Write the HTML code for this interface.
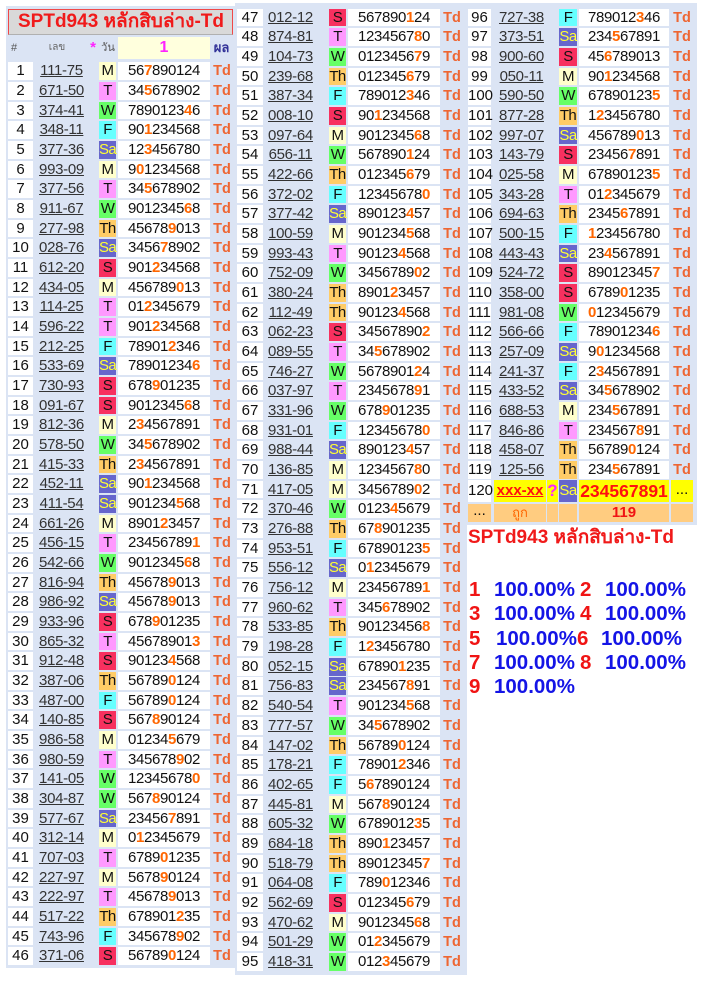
<!DOCTYPE html>
<html><head><meta charset="utf-8">
<style>
*{margin:0;padding:0;box-sizing:border-box}
body{width:702px;height:993px;position:relative;background:#fff;overflow:hidden;font-family:"Liberation Sans","DejaVu Sans",sans-serif}
.bg{position:absolute;background:#dbe4f4}
.t{position:absolute}
.r{position:relative;height:19.68px}
.r span{position:absolute;top:1px;height:17.7px;line-height:18px;text-align:center;font-size:15px;color:#111;white-space:nowrap}
.n{left:0;width:25px;background:#fff}
.l{left:26px;width:55px;text-decoration:underline;text-decoration-thickness:1.3px;color:#333 !important;letter-spacing:-0.3px}
.d{left:91px;width:17px;letter-spacing:-0.6px}
.g{left:110px;width:92px;background:#fff;letter-spacing:-0.35px}
.g b{color:#ff6600}
.r span.x{left:204px;width:20px;font-weight:bold;color:#ee6633;font-size:14.5px}
.M{background:#ffffcc}.T{background:#ff99ff}.W{background:#66ff66}.Th{background:#ffcc66}.F{background:#66ffff}
.r span.Sa{background:#6666cc;color:#ffff33}.S{background:#f7305f}
#R .n{width:23px}
#R .d{width:18px}
#R .g{left:111px;width:90px}
#R .r span.x{left:203px;width:22px}
#C .n{width:26px}
#C .d{left:92px}
#C .g{left:111px}
#C .r span.x{left:205px}
.ttl{position:absolute;color:#f01a1a;font-weight:bold;font-size:19px;white-space:nowrap}
.h{position:absolute;top:37px;height:22px;line-height:22px;text-align:center;white-space:nowrap}
.st{position:absolute;font-weight:bold;font-size:20.5px;line-height:24px;white-space:nowrap}
.rd{color:#f01414}.bl{color:#1414e6}
</style></head><body>
<div class="bg" style="left:6px;top:6px;width:229px;height:962px"></div>
<div class="bg" style="left:235px;top:3px;width:232px;height:972px"></div>
<div class="bg" style="left:466px;top:3px;width:231px;height:522px"></div>

<div style="position:absolute;left:8px;top:9px;width:225px;height:26px;background:#d9d9d9;border:1px solid #f04848;border-bottom-color:#b0b0b0"></div>
<div class="ttl" style="left:18px;top:9px;line-height:26px">SPTd943 หลักสิบล่าง-Td</div>

<div class="h" style="left:9px;width:10px;font-size:11px;color:#555">#</div>
<div class="h" style="left:40px;width:34px;font-size:10px;color:#666">เลข</div>
<div class="h" style="left:88px;width:10px;font-size:15px;color:#ff22ff;font-weight:bold">*</div>
<div class="h" style="left:100px;width:16px;font-size:11px;color:#555">วัน</div>
<div class="h" style="left:118px;width:92px;background:#ffffdd;font-size:16px;color:#ff22ff;font-weight:bold">1</div>
<div class="h" style="left:212px;width:19px;font-size:13px;color:#333399;font-weight:bold">ผล</div>

<div class="t" id="L" style="left:8px;top:61.2px;width:226px">
<div class="r"><span class="n">1</span><span class="l">111-75</span><span class="d M">M</span><span class="g">56<b>7</b>890124</span><span class="x">Td</span></div>
<div class="r"><span class="n">2</span><span class="l">671-50</span><span class="d T">T</span><span class="g">34<b>5</b>678902</span><span class="x">Td</span></div>
<div class="r"><span class="n">3</span><span class="l">374-41</span><span class="d W">W</span><span class="g">7890123<b>4</b>6</span><span class="x">Td</span></div>
<div class="r"><span class="n">4</span><span class="l">348-11</span><span class="d F">F</span><span class="g">90<b>1</b>234568</span><span class="x">Td</span></div>
<div class="r"><span class="n">5</span><span class="l">377-36</span><span class="d Sa">Sa</span><span class="g">12<b>3</b>456780</span><span class="x">Td</span></div>
<div class="r"><span class="n">6</span><span class="l">993-09</span><span class="d M">M</span><span class="g">9<b>0</b>1234568</span><span class="x">Td</span></div>
<div class="r"><span class="n">7</span><span class="l">377-56</span><span class="d T">T</span><span class="g">34<b>5</b>678902</span><span class="x">Td</span></div>
<div class="r"><span class="n">8</span><span class="l">911-67</span><span class="d W">W</span><span class="g">9012345<b>6</b>8</span><span class="x">Td</span></div>
<div class="r"><span class="n">9</span><span class="l">277-98</span><span class="d Th">Th</span><span class="g">45678<b>9</b>013</span><span class="x">Td</span></div>
<div class="r"><span class="n">10</span><span class="l">028-76</span><span class="d Sa">Sa</span><span class="g">3456<b>7</b>8902</span><span class="x">Td</span></div>
<div class="r"><span class="n">11</span><span class="l">612-20</span><span class="d S">S</span><span class="g">901<b>2</b>34568</span><span class="x">Td</span></div>
<div class="r"><span class="n">12</span><span class="l">434-05</span><span class="d M">M</span><span class="g">456789<b>0</b>13</span><span class="x">Td</span></div>
<div class="r"><span class="n">13</span><span class="l">114-25</span><span class="d T">T</span><span class="g">01<b>2</b>345679</span><span class="x">Td</span></div>
<div class="r"><span class="n">14</span><span class="l">596-22</span><span class="d T">T</span><span class="g">901<b>2</b>34568</span><span class="x">Td</span></div>
<div class="r"><span class="n">15</span><span class="l">212-25</span><span class="d F">F</span><span class="g">78901<b>2</b>346</span><span class="x">Td</span></div>
<div class="r"><span class="n">16</span><span class="l">533-69</span><span class="d Sa">Sa</span><span class="g">78901234<b>6</b></span><span class="x">Td</span></div>
<div class="r"><span class="n">17</span><span class="l">730-93</span><span class="d S">S</span><span class="g">678<b>9</b>01235</span><span class="x">Td</span></div>
<div class="r"><span class="n">18</span><span class="l">091-67</span><span class="d S">S</span><span class="g">9012345<b>6</b>8</span><span class="x">Td</span></div>
<div class="r"><span class="n">19</span><span class="l">812-36</span><span class="d M">M</span><span class="g">2<b>3</b>4567891</span><span class="x">Td</span></div>
<div class="r"><span class="n">20</span><span class="l">578-50</span><span class="d W">W</span><span class="g">34<b>5</b>678902</span><span class="x">Td</span></div>
<div class="r"><span class="n">21</span><span class="l">415-33</span><span class="d Th">Th</span><span class="g">2<b>3</b>4567891</span><span class="x">Td</span></div>
<div class="r"><span class="n">22</span><span class="l">452-11</span><span class="d Sa">Sa</span><span class="g">90<b>1</b>234568</span><span class="x">Td</span></div>
<div class="r"><span class="n">23</span><span class="l">411-54</span><span class="d Sa">Sa</span><span class="g">901234<b>5</b>68</span><span class="x">Td</span></div>
<div class="r"><span class="n">24</span><span class="l">661-26</span><span class="d M">M</span><span class="g">8901<b>2</b>3457</span><span class="x">Td</span></div>
<div class="r"><span class="n">25</span><span class="l">456-15</span><span class="d T">T</span><span class="g">23456789<b>1</b></span><span class="x">Td</span></div>
<div class="r"><span class="n">26</span><span class="l">542-66</span><span class="d W">W</span><span class="g">9012345<b>6</b>8</span><span class="x">Td</span></div>
<div class="r"><span class="n">27</span><span class="l">816-94</span><span class="d Th">Th</span><span class="g">45678<b>9</b>013</span><span class="x">Td</span></div>
<div class="r"><span class="n">28</span><span class="l">986-92</span><span class="d Sa">Sa</span><span class="g">45678<b>9</b>013</span><span class="x">Td</span></div>
<div class="r"><span class="n">29</span><span class="l">933-96</span><span class="d S">S</span><span class="g">678<b>9</b>01235</span><span class="x">Td</span></div>
<div class="r"><span class="n">30</span><span class="l">865-32</span><span class="d T">T</span><span class="g">45678901<b>3</b></span><span class="x">Td</span></div>
<div class="r"><span class="n">31</span><span class="l">912-48</span><span class="d S">S</span><span class="g">90123<b>4</b>568</span><span class="x">Td</span></div>
<div class="r"><span class="n">32</span><span class="l">387-06</span><span class="d Th">Th</span><span class="g">56789<b>0</b>124</span><span class="x">Td</span></div>
<div class="r"><span class="n">33</span><span class="l">487-00</span><span class="d F">F</span><span class="g">56789<b>0</b>124</span><span class="x">Td</span></div>
<div class="r"><span class="n">34</span><span class="l">140-85</span><span class="d S">S</span><span class="g">567<b>8</b>90124</span><span class="x">Td</span></div>
<div class="r"><span class="n">35</span><span class="l">986-58</span><span class="d M">M</span><span class="g">01234<b>5</b>679</span><span class="x">Td</span></div>
<div class="r"><span class="n">36</span><span class="l">980-59</span><span class="d T">T</span><span class="g">345678<b>9</b>02</span><span class="x">Td</span></div>
<div class="r"><span class="n">37</span><span class="l">141-05</span><span class="d W">W</span><span class="g">12345678<b>0</b></span><span class="x">Td</span></div>
<div class="r"><span class="n">38</span><span class="l">304-87</span><span class="d W">W</span><span class="g">567<b>8</b>90124</span><span class="x">Td</span></div>
<div class="r"><span class="n">39</span><span class="l">577-67</span><span class="d Sa">Sa</span><span class="g">23456<b>7</b>891</span><span class="x">Td</span></div>
<div class="r"><span class="n">40</span><span class="l">312-14</span><span class="d M">M</span><span class="g">0<b>1</b>2345679</span><span class="x">Td</span></div>
<div class="r"><span class="n">41</span><span class="l">707-03</span><span class="d T">T</span><span class="g">6789<b>0</b>1235</span><span class="x">Td</span></div>
<div class="r"><span class="n">42</span><span class="l">227-97</span><span class="d M">M</span><span class="g">5678<b>9</b>0124</span><span class="x">Td</span></div>
<div class="r"><span class="n">43</span><span class="l">222-97</span><span class="d T">T</span><span class="g">45678<b>9</b>013</span><span class="x">Td</span></div>
<div class="r"><span class="n">44</span><span class="l">517-22</span><span class="d Th">Th</span><span class="g">678901<b>2</b>35</span><span class="x">Td</span></div>
<div class="r"><span class="n">45</span><span class="l">743-96</span><span class="d F">F</span><span class="g">345678<b>9</b>02</span><span class="x">Td</span></div>
<div class="r"><span class="n">46</span><span class="l">371-06</span><span class="d S">S</span><span class="g">56789<b>0</b>124</span><span class="x">Td</span></div>
</div>

<div class="t" id="C" style="left:237px;top:7.65px;width:228px">
<div class="r"><span class="n">47</span><span class="l">012-12</span><span class="d S">S</span><span class="g">567890<b>1</b>24</span><span class="x">Td</span></div>
<div class="r"><span class="n">48</span><span class="l">874-81</span><span class="d T">T</span><span class="g">1234567<b>8</b>0</span><span class="x">Td</span></div>
<div class="r"><span class="n">49</span><span class="l">104-73</span><span class="d W">W</span><span class="g">0123456<b>7</b>9</span><span class="x">Td</span></div>
<div class="r"><span class="n">50</span><span class="l">239-68</span><span class="d Th">Th</span><span class="g">012345<b>6</b>79</span><span class="x">Td</span></div>
<div class="r"><span class="n">51</span><span class="l">387-34</span><span class="d F">F</span><span class="g">789012<b>3</b>46</span><span class="x">Td</span></div>
<div class="r"><span class="n">52</span><span class="l">008-10</span><span class="d S">S</span><span class="g">90<b>1</b>234568</span><span class="x">Td</span></div>
<div class="r"><span class="n">53</span><span class="l">097-64</span><span class="d M">M</span><span class="g">9012345<b>6</b>8</span><span class="x">Td</span></div>
<div class="r"><span class="n">54</span><span class="l">656-11</span><span class="d W">W</span><span class="g">567890<b>1</b>24</span><span class="x">Td</span></div>
<div class="r"><span class="n">55</span><span class="l">422-66</span><span class="d Th">Th</span><span class="g">012345<b>6</b>79</span><span class="x">Td</span></div>
<div class="r"><span class="n">56</span><span class="l">372-02</span><span class="d F">F</span><span class="g">12345678<b>0</b></span><span class="x">Td</span></div>
<div class="r"><span class="n">57</span><span class="l">377-42</span><span class="d Sa">Sa</span><span class="g">890123<b>4</b>57</span><span class="x">Td</span></div>
<div class="r"><span class="n">58</span><span class="l">100-59</span><span class="d M">M</span><span class="g">901234<b>5</b>68</span><span class="x">Td</span></div>
<div class="r"><span class="n">59</span><span class="l">993-43</span><span class="d T">T</span><span class="g">90123<b>4</b>568</span><span class="x">Td</span></div>
<div class="r"><span class="n">60</span><span class="l">752-09</span><span class="d W">W</span><span class="g">3456789<b>0</b>2</span><span class="x">Td</span></div>
<div class="r"><span class="n">61</span><span class="l">380-24</span><span class="d Th">Th</span><span class="g">8901<b>2</b>3457</span><span class="x">Td</span></div>
<div class="r"><span class="n">62</span><span class="l">112-49</span><span class="d Th">Th</span><span class="g">90123<b>4</b>568</span><span class="x">Td</span></div>
<div class="r"><span class="n">63</span><span class="l">062-23</span><span class="d S">S</span><span class="g">34567890<b>2</b></span><span class="x">Td</span></div>
<div class="r"><span class="n">64</span><span class="l">089-55</span><span class="d T">T</span><span class="g">34<b>5</b>678902</span><span class="x">Td</span></div>
<div class="r"><span class="n">65</span><span class="l">746-27</span><span class="d W">W</span><span class="g">5678901<b>2</b>4</span><span class="x">Td</span></div>
<div class="r"><span class="n">66</span><span class="l">037-97</span><span class="d T">T</span><span class="g">2345678<b>9</b>1</span><span class="x">Td</span></div>
<div class="r"><span class="n">67</span><span class="l">331-96</span><span class="d W">W</span><span class="g">678<b>9</b>01235</span><span class="x">Td</span></div>
<div class="r"><span class="n">68</span><span class="l">931-01</span><span class="d F">F</span><span class="g">12345678<b>0</b></span><span class="x">Td</span></div>
<div class="r"><span class="n">69</span><span class="l">988-44</span><span class="d Sa">Sa</span><span class="g">890123<b>4</b>57</span><span class="x">Td</span></div>
<div class="r"><span class="n">70</span><span class="l">136-85</span><span class="d M">M</span><span class="g">1234567<b>8</b>0</span><span class="x">Td</span></div>
<div class="r"><span class="n">71</span><span class="l">417-05</span><span class="d M">M</span><span class="g">3456789<b>0</b>2</span><span class="x">Td</span></div>
<div class="r"><span class="n">72</span><span class="l">370-46</span><span class="d W">W</span><span class="g">0123<b>4</b>5679</span><span class="x">Td</span></div>
<div class="r"><span class="n">73</span><span class="l">276-88</span><span class="d Th">Th</span><span class="g">67<b>8</b>901235</span><span class="x">Td</span></div>
<div class="r"><span class="n">74</span><span class="l">953-51</span><span class="d F">F</span><span class="g">67890123<b>5</b></span><span class="x">Td</span></div>
<div class="r"><span class="n">75</span><span class="l">556-12</span><span class="d Sa">Sa</span><span class="g">0<b>1</b>2345679</span><span class="x">Td</span></div>
<div class="r"><span class="n">76</span><span class="l">756-12</span><span class="d M">M</span><span class="g">23456789<b>1</b></span><span class="x">Td</span></div>
<div class="r"><span class="n">77</span><span class="l">960-62</span><span class="d T">T</span><span class="g">345<b>6</b>78902</span><span class="x">Td</span></div>
<div class="r"><span class="n">78</span><span class="l">533-85</span><span class="d Th">Th</span><span class="g">90123456<b>8</b></span><span class="x">Td</span></div>
<div class="r"><span class="n">79</span><span class="l">198-28</span><span class="d F">F</span><span class="g">1<b>2</b>3456780</span><span class="x">Td</span></div>
<div class="r"><span class="n">80</span><span class="l">052-15</span><span class="d Sa">Sa</span><span class="g">67890<b>1</b>235</span><span class="x">Td</span></div>
<div class="r"><span class="n">81</span><span class="l">756-83</span><span class="d Sa">Sa</span><span class="g">234567<b>8</b>91</span><span class="x">Td</span></div>
<div class="r"><span class="n">82</span><span class="l">540-54</span><span class="d T">T</span><span class="g">901234<b>5</b>68</span><span class="x">Td</span></div>
<div class="r"><span class="n">83</span><span class="l">777-57</span><span class="d W">W</span><span class="g">34<b>5</b>678902</span><span class="x">Td</span></div>
<div class="r"><span class="n">84</span><span class="l">147-02</span><span class="d Th">Th</span><span class="g">56789<b>0</b>124</span><span class="x">Td</span></div>
<div class="r"><span class="n">85</span><span class="l">178-21</span><span class="d F">F</span><span class="g">78901<b>2</b>346</span><span class="x">Td</span></div>
<div class="r"><span class="n">86</span><span class="l">402-65</span><span class="d F">F</span><span class="g">5<b>6</b>7890124</span><span class="x">Td</span></div>
<div class="r"><span class="n">87</span><span class="l">445-81</span><span class="d M">M</span><span class="g">567<b>8</b>90124</span><span class="x">Td</span></div>
<div class="r"><span class="n">88</span><span class="l">605-32</span><span class="d W">W</span><span class="g">6789012<b>3</b>5</span><span class="x">Td</span></div>
<div class="r"><span class="n">89</span><span class="l">684-18</span><span class="d Th">Th</span><span class="g">890<b>1</b>23457</span><span class="x">Td</span></div>
<div class="r"><span class="n">90</span><span class="l">518-79</span><span class="d Th">Th</span><span class="g">89012345<b>7</b></span><span class="x">Td</span></div>
<div class="r"><span class="n">91</span><span class="l">064-08</span><span class="d F">F</span><span class="g">789<b>0</b>12346</span><span class="x">Td</span></div>
<div class="r"><span class="n">92</span><span class="l">562-69</span><span class="d S">S</span><span class="g">012345<b>6</b>79</span><span class="x">Td</span></div>
<div class="r"><span class="n">93</span><span class="l">470-62</span><span class="d M">M</span><span class="g">9012345<b>6</b>8</span><span class="x">Td</span></div>
<div class="r"><span class="n">94</span><span class="l">501-29</span><span class="d W">W</span><span class="g">01<b>2</b>345679</span><span class="x">Td</span></div>
<div class="r"><span class="n">95</span><span class="l">418-31</span><span class="d W">W</span><span class="g">012<b>3</b>45679</span><span class="x">Td</span></div>
</div>

<div class="t" id="R" style="left:468px;top:7.65px;width:228px">
<div class="r"><span class="n">96</span><span class="l">727-38</span><span class="d F">F</span><span class="g">789012<b>3</b>46</span><span class="x">Td</span></div>
<div class="r"><span class="n">97</span><span class="l">373-51</span><span class="d Sa">Sa</span><span class="g">234<b>5</b>67891</span><span class="x">Td</span></div>
<div class="r"><span class="n">98</span><span class="l">900-60</span><span class="d S">S</span><span class="g">45<b>6</b>789013</span><span class="x">Td</span></div>
<div class="r"><span class="n">99</span><span class="l">050-11</span><span class="d M">M</span><span class="g">90<b>1</b>234568</span><span class="x">Td</span></div>
<div class="r"><span class="n">100</span><span class="l">590-50</span><span class="d W">W</span><span class="g">67890123<b>5</b></span><span class="x">Td</span></div>
<div class="r"><span class="n">101</span><span class="l">877-28</span><span class="d Th">Th</span><span class="g">1<b>2</b>3456780</span><span class="x">Td</span></div>
<div class="r"><span class="n">102</span><span class="l">997-07</span><span class="d Sa">Sa</span><span class="g">456789<b>0</b>13</span><span class="x">Td</span></div>
<div class="r"><span class="n">103</span><span class="l">143-79</span><span class="d S">S</span><span class="g">23456<b>7</b>891</span><span class="x">Td</span></div>
<div class="r"><span class="n">104</span><span class="l">025-58</span><span class="d M">M</span><span class="g">67890123<b>5</b></span><span class="x">Td</span></div>
<div class="r"><span class="n">105</span><span class="l">343-28</span><span class="d T">T</span><span class="g">01<b>2</b>345679</span><span class="x">Td</span></div>
<div class="r"><span class="n">106</span><span class="l">694-63</span><span class="d Th">Th</span><span class="g">2345<b>6</b>7891</span><span class="x">Td</span></div>
<div class="r"><span class="n">107</span><span class="l">500-15</span><span class="d F">F</span><span class="g"><b>1</b>23456780</span><span class="x">Td</span></div>
<div class="r"><span class="n">108</span><span class="l">443-43</span><span class="d Sa">Sa</span><span class="g">23<b>4</b>567891</span><span class="x">Td</span></div>
<div class="r"><span class="n">109</span><span class="l">524-72</span><span class="d S">S</span><span class="g">89012345<b>7</b></span><span class="x">Td</span></div>
<div class="r"><span class="n">110</span><span class="l">358-00</span><span class="d S">S</span><span class="g">6789<b>0</b>1235</span><span class="x">Td</span></div>
<div class="r"><span class="n">111</span><span class="l">981-08</span><span class="d W">W</span><span class="g"><b>0</b>12345679</span><span class="x">Td</span></div>
<div class="r"><span class="n">112</span><span class="l">566-66</span><span class="d F">F</span><span class="g">78901234<b>6</b></span><span class="x">Td</span></div>
<div class="r"><span class="n">113</span><span class="l">257-09</span><span class="d Sa">Sa</span><span class="g">9<b>0</b>1234568</span><span class="x">Td</span></div>
<div class="r"><span class="n">114</span><span class="l">241-37</span><span class="d F">F</span><span class="g">2<b>3</b>4567891</span><span class="x">Td</span></div>
<div class="r"><span class="n">115</span><span class="l">433-52</span><span class="d Sa">Sa</span><span class="g">34<b>5</b>678902</span><span class="x">Td</span></div>
<div class="r"><span class="n">116</span><span class="l">688-53</span><span class="d M">M</span><span class="g">234<b>5</b>67891</span><span class="x">Td</span></div>
<div class="r"><span class="n">117</span><span class="l">846-86</span><span class="d T">T</span><span class="g">234567<b>8</b>91</span><span class="x">Td</span></div>
<div class="r"><span class="n">118</span><span class="l">458-07</span><span class="d Th">Th</span><span class="g">56789<b>0</b>124</span><span class="x">Td</span></div>
<div class="r"><span class="n">119</span><span class="l">125-56</span><span class="d Th">Th</span><span class="g">234<b>5</b>67891</span><span class="x">Td</span></div>
<div class="r" style="height:23.6px">
<span class="n" style="top:0;height:22px;line-height:22px">120</span>
<span style="left:26px;width:52px;top:0;height:22px;line-height:22px;background:#ffff00;color:#ff1010;font-weight:bold;text-decoration:underline">xxx-xx</span>
<span style="left:79px;width:11px;top:0;height:22px;line-height:22px;background:#ffff00;color:#ff22ff;font-weight:bold;font-size:17px">?</span>
<span class="d Sa" style="top:0;height:22px;line-height:22px">Sa</span>
<span style="left:111px;width:90px;top:0;height:22px;line-height:22px;background:#ffff00;color:#ff1010;font-weight:bold;font-size:17.5px">234567891</span>
<span style="left:203px;width:22px;top:0;height:22px;line-height:20px;background:#ffff00;color:#111">...</span>
</div>
<div class="r">
<span style="left:0;width:23px;background:#ffcc80;line-height:14px;color:#111">...</span>
<span style="left:26px;width:52px;background:#ffcc80;color:#ff6600;font-size:13px">ถูก</span>
<span style="left:79px;width:11px;background:#ffcc80"></span>
<span style="left:91px;width:18px;background:#ffcc80"></span>
<span style="left:111px;width:90px;background:#ffcc80;color:#f01414;font-weight:bold">119</span>
<span style="left:203px;width:22px;background:#ffcc80"></span>
</div>
</div>

<div class="ttl" style="left:468px;top:526px;line-height:24px">SPTd943 หลักสิบล่าง-Td</div>

<div class="st rd" style="left:469px;top:578px">1</div><div class="st bl" style="left:494px;top:578px">100.00%</div>
<div class="st rd" style="left:580px;top:578px">2</div><div class="st bl" style="left:605px;top:578px">100.00%</div>
<div class="st rd" style="left:469px;top:602px">3</div><div class="st bl" style="left:494px;top:602px">100.00%</div>
<div class="st rd" style="left:580px;top:602px">4</div><div class="st bl" style="left:605px;top:602px">100.00%</div>
<div class="st rd" style="left:469px;top:627px">5</div><div class="st bl" style="left:496px;top:627px">100.00%</div>
<div class="st rd" style="left:577px;top:627px">6</div><div class="st bl" style="left:601px;top:627px">100.00%</div>
<div class="st rd" style="left:469px;top:651px">7</div><div class="st bl" style="left:494px;top:651px">100.00%</div>
<div class="st rd" style="left:580px;top:651px">8</div><div class="st bl" style="left:605px;top:651px">100.00%</div>
<div class="st rd" style="left:469px;top:675px">9</div><div class="st bl" style="left:494px;top:675px">100.00%</div>
</body></html>
